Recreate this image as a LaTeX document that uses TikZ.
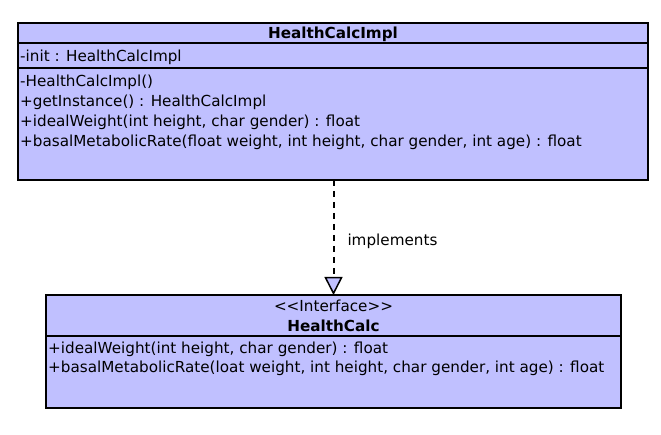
\documentclass[tikz,border=0pt]{standalone}
\usepackage{fontspec}
\setmainfont{DejaVu Sans}
\usetikzlibrary{arrows.meta}
\definecolor{umlfill}{RGB}{192,192,255}
\tikzset{
  umlbox/.style={draw=black, fill=umlfill, line width=1.7pt, inner sep=0pt, outer sep=0pt, anchor=north west},
  divider/.style={draw=black, line width=1.7pt},
  txt/.style={font=\fontsize{15.2}{18}\selectfont, inner sep=0pt, anchor=base west},
  title/.style={font=\fontsize{15.2}{18}\selectfont\bfseries, inner sep=0pt, anchor=base},
  stereo/.style={font=\fontsize{15.2}{18}\selectfont, inner sep=0pt, anchor=base},
  realize/.style={draw=black, line width=2pt, dash pattern=on 6pt off 5pt,
    -{Triangle[length=18pt, width=18pt, line width=1.5pt, fill=umlfill]}}
}
\begin{document}
\begin{tikzpicture}[x=1pt, y=-1pt]
\useasboundingbox (0,0) rectangle (661,435);
% HealthCalcImpl
\node[umlbox, minimum width=630pt, minimum height=157pt] (impl) at (18,23) {};
\draw[divider] (18,43) coordinate (d1a) -- (648,43) coordinate (d1b);
\draw[divider] (18,68) coordinate (d2a) -- (648,68) coordinate (d2b);
\node[title] (implname) at (333,39) {HealthCalcImpl};
\node[txt] (a1) at (20,62) {-init : HealthCalcImpl};
\node[txt] (m1) at (20,87) {-HealthCalcImpl()};
\node[txt] (m2) at (20,107) {+getInstance() : HealthCalcImpl};
\node[txt] (m3) at (20,127) {+idealWeight(int height, char gender) : float};
\node[txt] (m4) at (20,147) {+basalMetabolicRate(float weight, int height, char gender, int age) : float};
% HealthCalc
\node[umlbox, minimum width=575pt, minimum height=113pt] (iface) at (46,295) {};
\draw[divider] (46,336) coordinate (d3a) -- (621,336) coordinate (d3b);
\node[stereo] (st) at (333.5,312) {<{}<Interface>{}>};
\node[title] (ifname) at (333.5,332) {HealthCalc};
\node[txt] (n1) at (48,353) {+idealWeight(int height, char gender) : float};
\node[txt] (n2) at (48,373) {+basalMetabolicRate(loat weight, int height, char gender, int age) : float};
% realization
\draw[realize] (impl.south -| iface.north) -- (iface.north) node[midway, right=13pt, txt, anchor=west, yshift=-4pt] (lbl) {implements};
\end{tikzpicture}
\end{document}
